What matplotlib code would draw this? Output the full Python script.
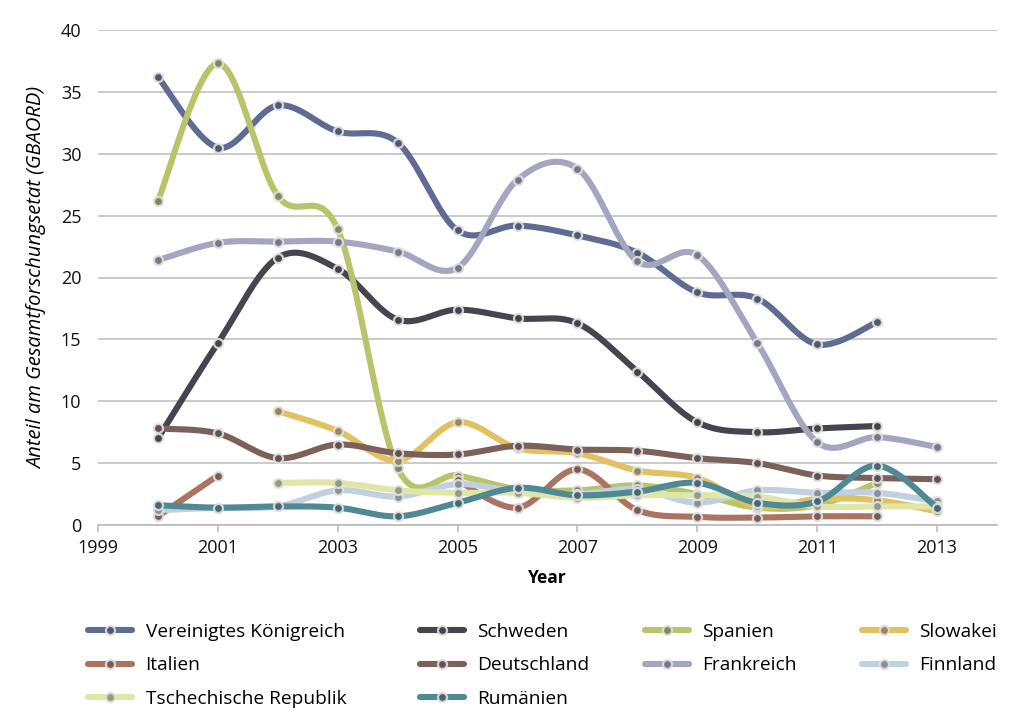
import numpy as np
import matplotlib
matplotlib.use("Agg")
import matplotlib.pyplot as plt
from matplotlib.lines import Line2D
from matplotlib.colors import to_rgb

plt.rcParams["font.family"] = ["Open Sans", "DejaVu Sans"]

# Share of total government R&D budget (GBAORD), by country and year
years_uk = [2000, 2001, 2002, 2003, 2004, 2005, 2006, 2007, 2008, 2009, 2010, 2011, 2012]
uk = [36.2, 30.5, 33.9, 31.8, 30.9, 23.8, 24.2, 23.4, 22.0, 18.8, 18.3, 14.6, 16.4]

years_se = [2000, 2001, 2002, 2003, 2004, 2005, 2006, 2007, 2008, 2009, 2010, 2011, 2012]
schweden = [7.0, 14.7, 21.6, 20.7, 16.6, 17.4, 16.7, 16.3, 12.4, 8.3, 7.5, 7.8, 8.0]

years_es = [2000, 2001, 2002, 2003, 2004, 2005, 2006, 2007, 2008, 2009, 2010, 2011, 2012]
spanien = [26.2, 37.3, 26.6, 23.9, 4.6, 4.0, 2.9, 2.8, 3.2, 2.5, 1.4, 1.6, 3.4]

years_sk = [2002, 2003, 2004, 2005, 2006, 2007, 2008, 2009, 2010, 2011, 2012, 2013]
slowakei = [9.2, 7.6, 5.2, 8.3, 6.2, 5.8, 4.4, 3.8, 1.5, 2.1, 2.0, 1.1]

# Italy has no values for 2002-2004
years_it = [2000, 2001, 2005, 2006, 2007, 2008, 2009, 2010, 2011, 2012]
italien = [0.7, 4.0, 3.6, 1.4, 4.5, 1.2, 0.65, 0.6, 0.7, 0.7]

years_de = [2000, 2001, 2002, 2003, 2004, 2005, 2006, 2007, 2008, 2009, 2010, 2011, 2012, 2013]
deutschland = [7.8, 7.4, 5.4, 6.5, 5.8, 5.7, 6.4, 6.1, 6.0, 5.4, 5.0, 4.0, 3.8, 3.7]

years_fr = [2000, 2001, 2002, 2003, 2004, 2005, 2006, 2007, 2008, 2009, 2010, 2011, 2012, 2013]
frankreich = [21.4, 22.8, 22.9, 22.9, 22.1, 20.8, 27.9, 28.8, 21.3, 21.8, 14.7, 6.7, 7.1, 6.3]

years_fi = [2000, 2001, 2002, 2003, 2004, 2005, 2006, 2007, 2008, 2009, 2010, 2011, 2012, 2013]
finnland = [1.2, 1.4, 1.5, 2.8, 2.3, 3.3, 2.7, 2.5, 2.9, 1.8, 2.8, 2.6, 2.6, 1.9]

years_cz = [2002, 2003, 2004, 2005, 2006, 2007, 2008, 2009, 2010, 2011, 2012, 2013]
tschechien = [3.4, 3.4, 2.8, 2.6, 2.6, 2.2, 2.4, 2.4, 2.3, 1.5, 1.5, 1.5]

years_ro = [2000, 2001, 2002, 2003, 2004, 2005, 2006, 2007, 2008, 2009, 2010, 2011, 2012, 2013]
rumaenien = [1.6, 1.4, 1.5, 1.4, 0.7, 1.8, 3.0, 2.4, 2.7, 3.4, 1.8, 1.9, 4.8, 1.4]

series = [
    ("Vereinigtes Königreich", years_uk, uk, "#5f6b93"),
    ("Schweden", years_se, schweden, "#45454f"),
    ("Spanien", years_es, spanien, "#b9c46a"),
    ("Slowakei", years_sk, slowakei, "#e2c163"),
    ("Italien", years_it, italien, "#ab7462"),
    ("Deutschland", years_de, deutschland, "#7b6159"),
    ("Frankreich", years_fr, frankreich, "#a3a6be"),
    ("Finnland", years_fi, finnland, "#bfd0e0"),
    ("Tschechische Republik", years_cz, tschechien, "#dfe6a6"),
    ("Rumänien", years_ro, rumaenien, "#4f8993"),
]


def smooth(xs, ys, n=30):
    """Catmull-Rom style Bezier smoothing through the given points."""
    p = np.column_stack([xs, ys]).astype(float)
    if len(p) < 3:
        return p[:, 0], p[:, 1]
    ext = np.vstack([p[0], p, p[-1]])
    out = []
    t = np.linspace(0, 1, n)[:, None]
    for i in range(1, len(ext) - 2):
        p0, p1, p2, p3 = ext[i - 1], ext[i], ext[i + 1], ext[i + 2]
        c1 = p1 + (p2 - p0) / 6.0
        c2 = p2 - (p3 - p1) / 6.0
        seg = ((1 - t) ** 3) * p1 + 3 * ((1 - t) ** 2) * t * c1 + 3 * (1 - t) * t ** 2 * c2 + t ** 3 * p2
        out.append(seg if i == 1 else seg[1:])
    seg = np.vstack(out)
    return seg[:, 0], seg[:, 1]


def segments(xs, ys):
    """Split a series into runs of consecutive years."""
    runs, cur = [], [0]
    for i in range(1, len(xs)):
        if xs[i] - xs[i - 1] == 1:
            cur.append(i)
        else:
            runs.append(cur)
            cur = [i]
    runs.append(cur)
    return [([xs[i] for i in r], [ys[i] for i in r]) for r in runs]


def marker_face(color):
    c = np.array(to_rgb(color))
    return tuple(c * 0.55 + np.array([0.25, 0.25, 0.27]) * 0.45)


LW = 4.4
MS = 6.5
EDGE = (0.88, 0.88, 0.88, 0.9)

fig = plt.figure(figsize=(10.18, 7.22), dpi=100)
ax = fig.add_axes([98 / 1018, 1 - 525 / 722, (997 - 98) / 1018, (525 - 30) / 722])

handles = []
for k, (name, xs, ys, col) in enumerate(series):
    for sx, sy in segments(xs, ys):
        cx, cy = smooth(sx, sy)
        ax.plot(cx, cy, color=col, lw=LW, solid_capstyle="round", zorder=3 + k * 0.1)
    ax.plot(xs, ys, ls="none", marker="o", ms=MS, mfc=marker_face(col), mec=EDGE, mew=1.6,
            zorder=3.05 + k * 0.1)
    handles.append(Line2D([], [], color=col, lw=LW, solid_capstyle="round", marker="o", ms=MS,
                          mfc=marker_face(col), mec=EDGE, mew=1.6, label=name))

ax.set_xlim(1999, 2014)
ax.set_ylim(0, 40)
ax.set_xticks(range(1999, 2014, 2))
ax.set_yticks(range(0, 41, 5))
ax.yaxis.grid(True, color="#c6c6c6", lw=1.3)
ax.set_axisbelow(True)
for s in ("left", "right", "top"):
    ax.spines[s].set_visible(False)
ax.spines["bottom"].set_color("#bdbdbd")
ax.spines["bottom"].set_linewidth(1.3)
ax.tick_params(axis="y", length=0, pad=12, labelsize=13, labelcolor="#111111")
ax.tick_params(axis="x", length=5, width=1.2, color="#bdbdbd", pad=5, labelsize=13,
               labelcolor="#111111")

ax.set_xlabel("Year", fontsize=12.5, fontweight="bold", labelpad=9)
ax.set_ylabel("Anteil am Gesamtforschungsetat (GBAORD)", fontsize=14.5, style="italic", labelpad=10)

# Legend laid out in four fixed columns
cols = [[0, 4, 8], [1, 5, 9], [2, 6], [3, 7]]
col_x = [88, 420, 645, 862]
for cidx, xpix in zip(cols, col_x):
    fig.legend(handles=[handles[i] for i in cidx], loc="upper left",
               bbox_to_anchor=(xpix / 1018, 1 - 623 / 722), frameon=False, fontsize=13.8,
               handlelength=2.3, handletextpad=0.7, labelspacing=0.8, borderpad=0,
               borderaxespad=0, numpoints=1)

fig.savefig("out.png", dpi=100)
